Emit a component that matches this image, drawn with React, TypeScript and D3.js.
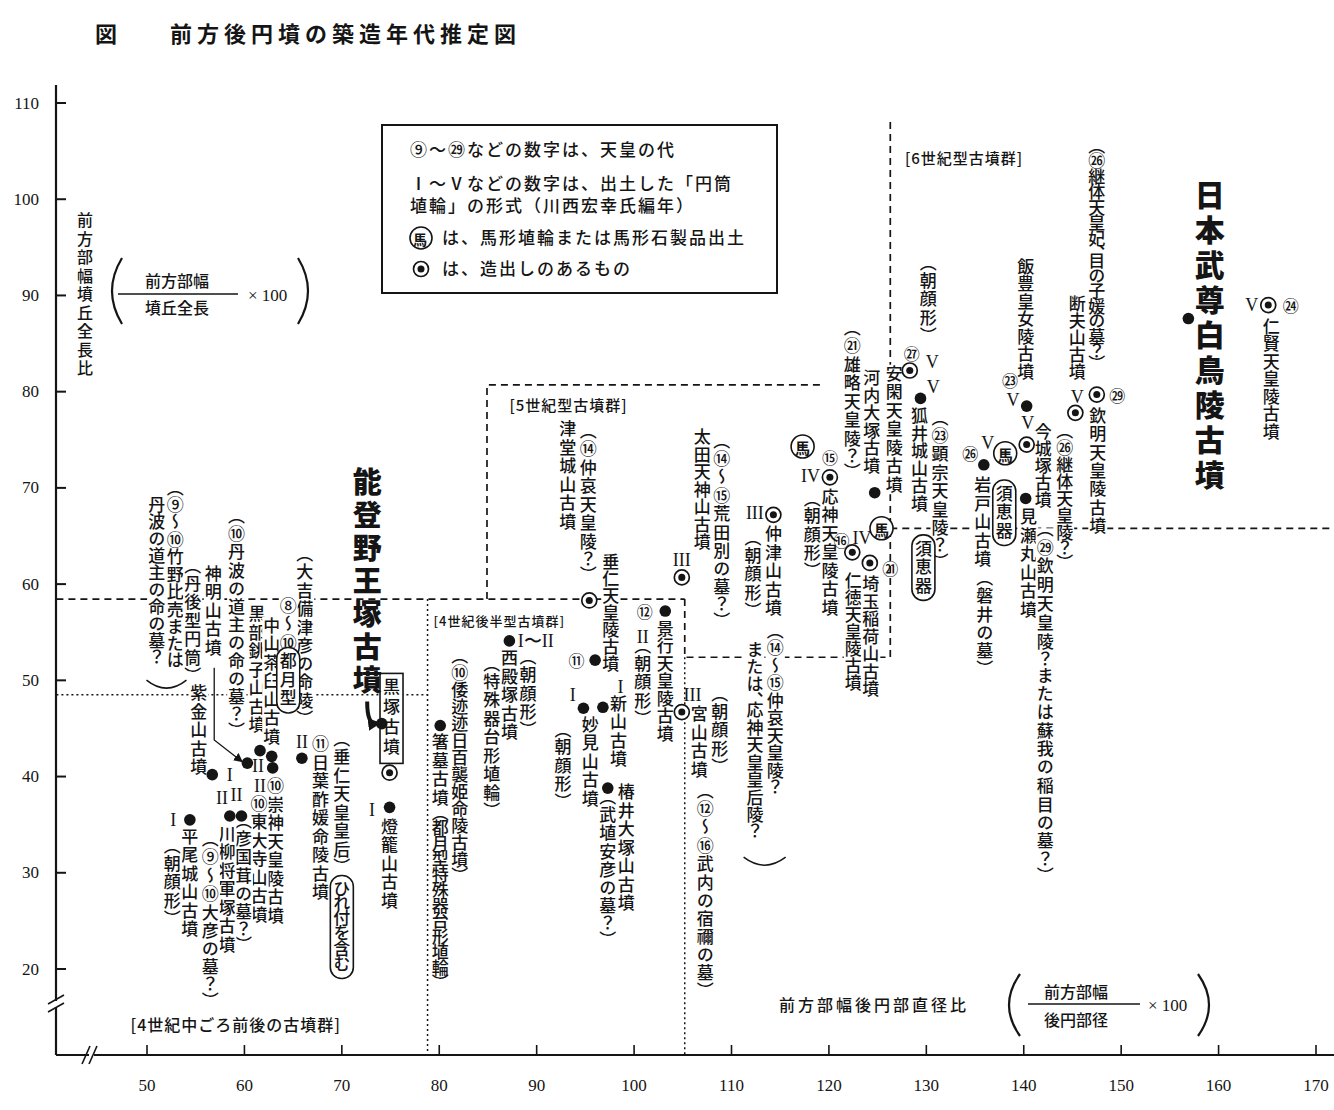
import * as d3 from "d3";

// 前方後円墳の築造年代推定図
// x: 前方部幅後円部直径比, y: 前方部幅墳丘全長比

const names = ["平尾城山古墳", "紫金山古墳", "神明山古墳", "黒部銚子山古墳", "中山茶臼山古墳", "崇神天皇陵古墳", "川柳将軍塚古墳", "東大寺山古墳", "日葉酢媛命陵古墳", "黒塚古墳", "能登野王塚古墳", "燈籠山古墳", "箸墓古墳", "西殿塚古墳", "津堂城山古墳", "垂仁天皇陵古墳", "妙見山古墳", "新山古墳", "椿井大塚山古墳", "景行天皇陵古墳", "宮山古墳", "太田天神山古墳", "仲津山古墳", "応神天皇陵古墳", "仁徳天皇陵古墳", "埼玉稲荷山古墳", "河内大塚古墳", "安閑天皇陵古墳", "狐井城山古墳", "岩戸山古墳", "飯豊皇女陵古墳", "今城塚古墳", "見瀬丸山古墳", "断夫山古墳", "欽明天皇陵古墳", "仁賢天皇陵古墳", "日本武尊白鳥陵古墳"];
const ratioX = [54.4, 56.7, 60.3, 61.6, 62.8, 62.9, 58.5, 59.7, 65.9, 74.9, 74.1, 74.9, 80.1, 87.2, 95.4, 96.0, 94.8, 96.8, 97.3, 103.2, 104.9, 104.9, 114.3, 120.1, 122.4, 124.2, 124.7, 128.3, 129.4, 135.9, 140.3, 140.3, 140.2, 145.3, 147.5, 165.1, 156.9];
const ratioY = [35.5, 40.2, 41.4, 42.7, 42.1, 40.9, 35.9, 35.9, 41.9, 40.4, 45.5, 36.8, 45.3, 54.1, 58.3, 52.1, 47.1, 47.2, 38.8, 57.2, 46.7, 60.7, 67.2, 71.1, 63.3, 62.2, 69.5, 82.2, 79.3, 72.4, 78.5, 74.5, 68.9, 77.8, 79.7, 89.0, 87.6];
// 1 = 造出しのあるもの (◉)
const tsukuridashi = [0, 0, 0, 0, 0, 0, 0, 0, 0, 1, 0, 0, 0, 0, 1, 0, 0, 0, 0, 0, 1, 1, 1, 1, 1, 1, 0, 1, 0, 0, 0, 1, 0, 1, 1, 1, 0];

const xTicks = [50, 60, 70, 80, 90, 100, 110, 120, 130, 140, 150, 160, 170];
const yTicks = [20, 30, 40, 50, 60, 70, 80, 90, 100, 110];

// vertical captions: text, x, y (top) in chart units, optional pitch
const captions: [string, number, number, number?][] = [
  ["（⑨〜⑩竹野比売または", 52.9, 70.1, 17.5],
  ["丹波の道主の命の墓？", 51.0, 69.2, 17.5],
  ["（丹後型円筒）", 54.7, 62.0],
  ["神明山古墳", 56.8, 62.0],
  ["紫金山古墳", 55.3, 49.6],
  ["（⑩丹波の道主の命の墓？）", 59.2, 67.2],
  ["黒部銚子山古墳", 61.3, 57.8],
  ["中山茶臼山古墳", 62.8, 56.6],
  ["（大吉備津彦の命陵）", 66.2, 63.2],
  ["⑧〜⑩", 64.5, 58.7],
  ["⑩崇神天皇陵古墳", 63.2, 39.9],
  ["⑩東大寺山古墳", 61.5, 38.1],
  ["（彦国茸の墓？）", 59.9, 35.5],
  ["川柳将軍塚古墳", 58.2, 35.0],
  ["（⑨〜⑩大彦の墓？）", 56.5, 33.6],
  ["平尾城山古墳", 54.4, 34.7],
  ["（朝顔形）", 52.6, 32.9],
  ["⑪日葉酢媛命陵古墳", 67.8, 44.3],
  ["（垂仁天皇皇后）", 70.0, 44.0],
  ["燈籠山古墳", 74.9, 35.7],
  ["箸墓古墳", 80.1, 44.5],
  ["（都月型特殊器台形埴輪）", 80.1, 36.3, 15.5],
  ["（⑩倭迹迹日百襲姫命陵古墳）", 82.1, 52.6, 17],
  ["西殿塚古墳", 87.2, 53.2],
  ["（特殊器台形埴輪）", 85.4, 51.8],
  ["（朝顔形）", 89.1, 52.5],
  ["垂仁天皇陵古墳", 97.6, 63.2, 17],
  ["津堂城山古墳", 93.2, 77.0],
  ["（⑭仲哀天皇陵？）", 95.3, 76.0],
  ["妙見山古墳", 95.5, 46.3],
  ["（朝顔形）", 92.7, 45.0],
  ["新山古墳", 98.4, 48.5],
  ["椿井大塚山古墳", 99.2, 39.3],
  ["（武埴安彦の墓？）", 97.3, 38.0],
  ["景行天皇陵古墳", 103.2, 56.3, 17.5],
  ["（朝顔形）", 100.9, 53.7],
  ["宮山古墳", 106.7, 47.4],
  ["（朝顔形）", 108.8, 48.7],
  ["（⑫〜⑯武内の宿禰の墓）", 107.3, 38.6],
  ["太田天神山古墳", 107.0, 76.2, 17.5],
  ["（⑭〜⑮荒田別の墓？）", 109.0, 75.0],
  ["仲津山古墳", 114.3, 66.1],
  ["（朝顔形）", 112.2, 64.9],
  ["（⑭〜⑮仲哀天皇陵？", 114.5, 55.2, 17.5],
  ["または、応神天皇皇后陵？", 112.4, 54.0, 17.5],
  ["応神天皇陵古墳", 120.1, 70.0],
  ["（朝顔形）", 118.3, 69.0],
  ["（㉑雄略天皇陵？）", 122.4, 86.7],
  ["河内大塚古墳", 124.4, 82.3, 17.5],
  ["仁徳天皇陵古墳", 122.5, 61.3, 17],
  ["埼玉稲荷山古墳", 124.3, 60.9, 17.5],
  ["（朝顔形）", 130.2, 93.5],
  ["安閑天皇陵古墳", 126.7, 82.8],
  ["狐井城山古墳", 129.3, 78.4, 17.5],
  ["（㉓顕宗天皇陵？）", 131.4, 77.4],
  ["岩戸山古墳", 135.8, 71.2],
  ["（磐井の墓）", 136.0, 60.7],
  ["飯豊皇女陵古墳", 140.2, 93.9, 17.5],
  ["今城塚古墳", 142.0, 76.7, 17],
  ["（㉖継体天皇陵？）", 144.2, 76.0, 17],
  ["見瀬丸山古墳", 140.5, 67.9],
  ["（㉙欽明天皇陵？または蘇我の稲目の墓？）", 142.2, 65.8, 18.8],
  ["（㉖継体天皇妃、目の子媛の墓？）", 147.5, 105.6, 15.5],
  ["断夫山古墳", 145.5, 90.0, 17],
  ["欽明天皇陵古墳", 147.6, 78.4, 18.3],
  ["仁賢天皇陵古墳", 165.4, 87.7, 17.5],
];

// framed vertical captions
const framed: [string, number, number, string, number?][] = [
  ["都月型", 64.5, 52.9, "pill"],
  ["ひれ付を含む", 70.0, 29.2, "pill", 15.5],
  ["黒塚古墳", 75.1, 50.2, "rect", 20],
  ["須恵器", 129.7, 64.6, "pill"],
  ["須恵器", 138.0, 70.3, "pill"],
];

// 天皇の代 and 円筒埴輪形式 marks
const tags: [string, number, number][] = [
  ["I", 52.7, 35.5], ["I", 58.5, 40.2], ["II", 57.7, 37.8], ["II", 59.2, 38.1],
  ["II", 61.4, 41.1], ["II", 61.6, 39.0], ["II", 65.9, 43.6], ["I", 73.1, 36.5],
  ["I〜II", 89.9, 54.1], ["⑪", 94.1, 52.1], ["I", 93.7, 48.5], ["I", 98.6, 49.3],
  ["⑫", 101.1, 57.2], ["II", 100.9, 54.5], ["III", 106.0, 48.5], ["III", 104.9, 62.5],
  ["III", 112.4, 67.4], ["⑮", 120.1, 73.2], ["IV", 118.1, 71.2], ["⑯", 121.3, 64.6],
  ["IV", 123.4, 64.8], ["㉑", 126.3, 61.7], ["㉗", 128.5, 84.0], ["V", 130.6, 83.1],
  ["V", 130.7, 80.5], ["㉖", 134.5, 73.6], ["V", 136.3, 74.7], ["㉓", 138.6, 81.2],
  ["V", 138.9, 79.1], ["V", 140.4, 76.7], ["V", 145.5, 79.4], ["㉙", 149.6, 79.7],
  ["V", 163.4, 89.0], ["㉔", 167.4, 89.0],
];

// 馬形埴輪出土
const horses: [number, number][] = [[117.3, 74.3], [125.4, 65.8], [138.1, 73.6]];

const groups: [string, number, number, number][] = [
  ["[4世紀中ごろ前後の古墳群]", 48.3, 13.6, 16],
  ["[4世紀後半型古墳群]", 79.4, 55.6, 13],
  ["[5世紀型古墳群]", 87.2, 78.0, 15],
  ["[6世紀型古墳群]", 127.8, 103.7, 15],
];

// group boundaries (d = dashed, o = dotted)
const bounds: [string, [number, number][]][] = [
  ["d", [[40.7, 58.45], [105.2, 58.45]]],
  ["o", [[40.7, 48.5], [78.8, 48.5]]],
  ["o", [[78.8, 58.45], [78.8, 11.1]]],
  ["d", [[105.2, 58.45], [105.2, 52.4], [126.3, 52.4], [126.3, 108.4]]],
  ["o", [[105.2, 52.4], [105.2, 11.1]]],
  ["d", [[84.9, 58.45], [84.9, 80.7], [119.1, 80.7]]],
  ["d", [[126.3, 65.8], [171.8, 65.8]]],
];

// wide closing brackets under two-column captions
const closers: [number, number, number][] = [[52.0, 49.4, 40], [113.4, 31.0, 42]];

const JP = '"Noto Sans CJK JP", "Noto Sans", sans-serif';
const SERIF = '"Liberation Serif", "DejaVu Serif", serif';
const INK = "#151515";

const x = d3.scaleLinear([50, 170], [147, 1316]);
const y = d3.scaleLinear([20, 110], [969, 103]);

const SHORT = "（）、";
function colHeight(t: string, size: number, pitch: number) {
  return Array.from(t).reduce((s, ch) => s + (SHORT.includes(ch) ? size * 0.5 : size) + (pitch - size), 0);
}

// one <text> per column, set vertically
function Column({ t, cx, top, size = 17, pitch = 18.5, weight = 500, bg = true }: any) {
  const h = colHeight(t, size, pitch);
  return (
    <g>
      {bg && <rect x={cx - size / 2 - 1} y={top} width={size + 2} height={h} fill="#fff" />}
      <text x={cx} y={top} fontFamily={JP} fontWeight={weight} fontSize={size} fill={INK}
        letterSpacing={pitch - size}
        style={{ writingMode: "vertical-rl", fontFeatureSettings: '"vpal" 1' } as any}>{t}</text>
    </g>
  );
}

function Ring({ cx, cy, r = 7.5 }: any) {
  return (
    <g>
      <circle cx={cx} cy={cy} r={r} fill="#fff" stroke={INK} strokeWidth={1.7} />
      <circle cx={cx} cy={cy} r={r * 0.47} fill={INK} />
    </g>
  );
}

function Horse({ cx, cy, r = 11.5, size = 15 }: any) {
  return (
    <g>
      <circle cx={cx} cy={cy} r={r} fill="#fff" stroke={INK} strokeWidth={1.6} />
      <text x={cx} y={cy + 1} textAnchor="middle" dominantBaseline="central" fontFamily={JP} fontWeight={600} fontSize={size} fill={INK}>馬</text>
    </g>
  );
}

export default function App() {
  const axisX = 56;
  const axisY = 1055;
  const line = d3.line<[number, number]>().x((d) => x(d[0])).y((d) => y(d[1]));

  return (
    <svg width={1334} height={1110} viewBox="0 0 1334 1110"
      style={{ position: "absolute", left: 0, top: 0, background: "#fff" }}>
      <defs>
        <marker id="arr" viewBox="0 0 10 10" refX={8} refY={5} markerWidth={7} markerHeight={7} orient="auto">
          <path d="M0,0 L10,5 L0,10 z" fill={INK} />
        </marker>
        <marker id="arr2" viewBox="0 0 10 10" refX={6} refY={5} markerWidth={3.2} markerHeight={3.2} orient="auto">
          <path d="M0,0 L10,5 L0,10 z" fill={INK} />
        </marker>
      </defs>
      <rect width={1334} height={1110} fill="#fff" />

      {/* title */}
      <text x={95} y={42} fontFamily={JP} fontWeight={700} fontSize={22} fill={INK}>図</text>
      <text x={170} y={42} fontFamily={JP} fontWeight={700} fontSize={22} letterSpacing={5} fill={INK}>前方後円墳の築造年代推定図</text>

      {/* group boundaries */}
      {bounds.map(([k, pts], i) => (
        <path key={i} d={line(pts) || ""} fill="none" stroke={INK}
          strokeWidth={k === "d" ? 1.7 : 1.5} strokeDasharray={k === "d" ? "7 5" : "2 3"} />
      ))}

      {/* axes */}
      <line x1={axisX} y1={85} x2={axisX} y2={axisY} stroke={INK} strokeWidth={2.2} />
      <rect x={axisX - 4} y={1001} width={8} height={6} fill="#fff" />
      <line x1={48} y1={1004} x2={64} y2={995} stroke={INK} strokeWidth={1.6} />
      <line x1={48} y1={1012} x2={64} y2={1003} stroke={INK} strokeWidth={1.6} />
      <line x1={axisX} y1={axisY} x2={1334} y2={axisY} stroke={INK} strokeWidth={2.2} />
      <rect x={89} y={axisY - 4} width={5} height={8} fill="#fff" />
      <line x1={82} y1={axisY + 9} x2={90} y2={axisY - 9} stroke={INK} strokeWidth={1.6} />
      <line x1={89} y1={axisY + 9} x2={97} y2={axisY - 9} stroke={INK} strokeWidth={1.6} />
      {yTicks.map((v) => (
        <g key={v}>
          <line x1={axisX} x2={axisX + 10} y1={y(v)} y2={y(v)} stroke={INK} strokeWidth={2} />
          <text x={39} y={y(v)} textAnchor="end" dominantBaseline="central" fontFamily={SERIF} fontSize={17} fill={INK}>{v}</text>
        </g>
      ))}
      {xTicks.map((v) => (
        <g key={v}>
          <line x1={x(v)} x2={x(v)} y1={axisY} y2={axisY - 10} stroke={INK} strokeWidth={1.6} />
          <text x={x(v)} y={1091} textAnchor="middle" fontFamily={SERIF} fontSize={17} fill={INK}>{v}</text>
        </g>
      ))}

      {/* y axis title */}
      <Column t="前方部幅墳丘全長比" cx={85} top={212} size={16} pitch={18.5} />
      <g fontFamily={JP} fontSize={16} fill={INK} fontWeight={500}>
        <path d="M122,258 Q102,291 122,324" fill="none" stroke={INK} strokeWidth={2.2} />
        <text x={177} y={287} textAnchor="middle">前方部幅</text>
        <line x1={118} x2={238} y1={294} y2={294} stroke={INK} strokeWidth={1.3} />
        <text x={177} y={314} textAnchor="middle">墳丘全長</text>
        <text x={248} y={301} fontFamily={SERIF} fontSize={17}>× 100</text>
        <path d="M298,258 Q318,291 298,324" fill="none" stroke={INK} strokeWidth={2.2} />
      </g>

      {/* x axis title */}
      <g fontFamily={JP} fontSize={16} fill={INK} fontWeight={500}>
        <text x={779} y={1011} letterSpacing={3}>前方部幅後円部直径比</text>
        <path d="M1020,974 Q998,1005 1020,1036" fill="none" stroke={INK} strokeWidth={2.2} />
        <text x={1076} y={998} textAnchor="middle">前方部幅</text>
        <line x1={1028} x2={1140} y1={1004} y2={1004} stroke={INK} strokeWidth={1.3} />
        <text x={1076} y={1026} textAnchor="middle">後円部径</text>
        <text x={1148} y={1011} fontFamily={SERIF} fontSize={17}>× 100</text>
        <path d="M1198,974 Q1220,1005 1198,1036" fill="none" stroke={INK} strokeWidth={2.2} />
      </g>

      {/* legend */}
      <g fontFamily={JP} fontSize={17} fill={INK} fontWeight={500} letterSpacing={2}>
        <rect x={382} y={125} width={395} height={168} fill="#fff" stroke={INK} strokeWidth={2} />
        <text x={410} y={156}>⑨〜㉙などの数字は、天皇の代</text>
        <text x={410} y={190}>Ⅰ〜Ⅴなどの数字は、出土した「円筒</text>
        <text x={410} y={212}>埴輪」の形式（川西宏幸氏編年）</text>
        <Horse cx={421} cy={238} r={11} size={14} />
        <text x={442} y={244}>は、馬形埴輪または馬形石製品出土</text>
        <Ring cx={421} cy={269} r={7.5} />
        <text x={442} y={275}>は、造出しのあるもの</text>
      </g>

      {/* group names */}
      {groups.map(([t, gx, gy, fs]) => (
        <text key={t} x={x(gx)} y={y(gy)} fontFamily={JP} fontSize={fs} fontWeight={500} letterSpacing={1} fill={INK}>{t}</text>
      ))}

      {/* captions */}
      {captions.map(([t, cx, cy, p], i) => (
        <Column key={i} t={t} cx={x(cx)} top={y(cy)} pitch={p ?? 18.5} />
      ))}
      {framed.map(([t, cx, cy, kind, p], i) => {
        const pitch = p ?? 18.5;
        const h = colHeight(t, 17, pitch);
        const X = x(cx), T = y(cy);
        return (
          <g key={i}>
            <rect x={X - 11.5} y={T - 5} width={23} height={h + 10} rx={kind === "pill" ? 11 : 0}
              fill="#fff" stroke={INK} strokeWidth={1.6} />
            <Column t={t} cx={X} top={T} pitch={pitch} bg={false} />
          </g>
        );
      })}
      {closers.map(([cx, cy, w], i) => {
        const X = x(cx), Y = y(cy);
        return <path key={i} d={`M${X - w / 2},${Y - 6} Q${X},${Y + 10} ${X + w / 2},${Y - 6}`} fill="none" stroke={INK} strokeWidth={1.5} />;
      })}

      {/* tags */}
      {tags.map(([t, tx, ty], i) => {
        const roman = /^[IV〜]+$/.test(t);
        return (
          <text key={i} x={x(tx)} y={y(ty)} textAnchor="middle" dominantBaseline="central"
            fontFamily={roman ? SERIF : JP} fontSize={roman ? 18 : 16} fontWeight={500} fill={INK}>{t}</text>
        );
      })}
      {horses.map(([hx, hy], i) => <Horse key={i} cx={x(hx)} cy={y(hy)} />)}

      {/* 神明山古墳 arrow */}
      <path d={line([[56.9, 51.3], [56.9, 43.8], [59.7, 41.6]]) || ""} fill="none" stroke={INK} strokeWidth={1.3} markerEnd="url(#arr)" />

      {/* handwritten notes */}
      <Column t="能登野王塚古墳" cx={x(72.6)} top={y(72.1)} size={29} pitch={33} weight={900} bg={false} />
      <path d={`M${x(72.6)},${y(47.8)} Q${x(72.6)},${y(45.4)} ${x(73.5)},${y(45.5)}`} fill="none" stroke={INK} strokeWidth={4} markerEnd="url(#arr2)" />
      <Column t="日本武尊白鳥陵古墳" cx={x(159.1)} top={y(102.0)} size={30} pitch={35} weight={900} bg={false} />

      {/* tumuli */}
      {names.map((n, i) =>
        tsukuridashi[i] ? (
          <Ring key={n} cx={x(ratioX[i])} cy={y(ratioY[i])} />
        ) : (
          <circle key={n} cx={x(ratioX[i])} cy={y(ratioY[i])} r={5.8} fill={INK} />
        )
      )}
    </svg>
  );
}
